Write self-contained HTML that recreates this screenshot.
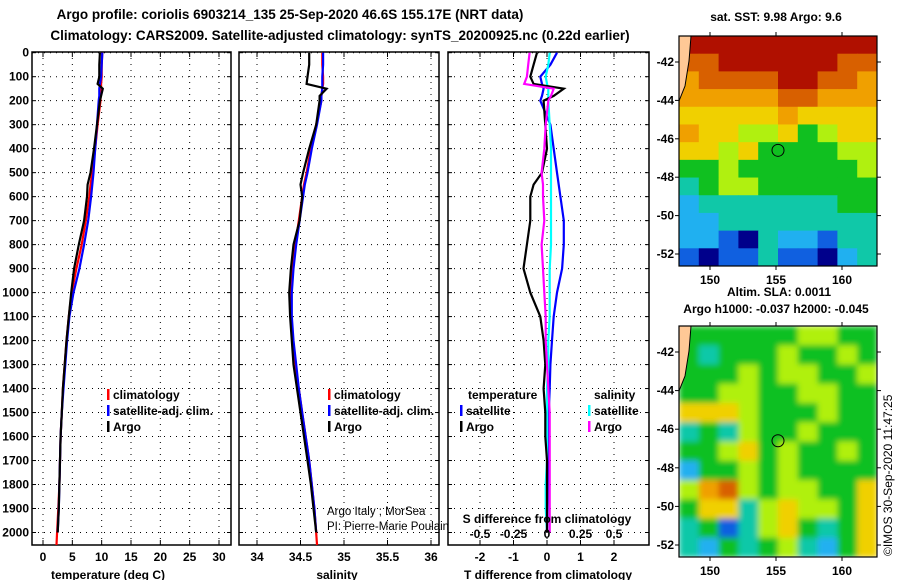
<!DOCTYPE html>
<html><head><meta charset="utf-8"><style>
body{margin:0;background:#fff;width:900px;height:580px;overflow:hidden}
svg{font-family:"Liberation Sans",sans-serif;font-weight:bold}
</style></head><body>
<svg id="s" width="900" height="580">
<defs>
<filter id="blur" x="0" y="0" width="100%" height="100%"><feGaussianBlur stdDeviation="3"/></filter>
<clipPath id="c1"><rect x="679" y="36" width="198" height="230"/></clipPath>
<clipPath id="c2"><rect x="679" y="326" width="198" height="231"/></clipPath>
</defs>
</svg>
<script>
// ---- data ----
const depths=[0,50,100,130,150,180,200,300,400,500,550,600,700,800,900,1000,1100,1200,1300,1400,1500,1600,1700,1800,1900,2000];
const tempArgo=[9.7,9.6,9.6,9.3,10.2,9.9,9.7,9.2,8.7,8.1,7.6,7.5,7.0,6.1,5.3,4.8,4.4,4.0,3.7,3.4,3.2,3.0,2.9,2.8,2.7,2.5];
const tempClim=[10.1,10.0,10.0,9.9,9.9,9.8,9.8,9.3,8.9,8.4,8.1,7.9,7.3,6.6,5.7,4.9,4.4,4.0,3.7,3.4,3.2,3.0,2.9,2.8,2.6,2.4];
const tempSat=[10.1,10.0,9.9,9.7,9.6,9.6,9.5,9.2,8.9,8.6,8.4,8.2,7.7,7.0,6.2,5.2,4.5,4.1,3.8,3.5,3.2,3.0,2.9,2.8,2.7,2.5];
const salArgo=[34.6,34.6,34.58,34.57,34.8,34.72,34.72,34.68,34.6,34.53,34.5,34.52,34.49,34.42,34.39,34.37,34.38,34.4,34.42,34.46,34.5,34.54,34.58,34.62,34.65,34.68];
const salClim=[34.75,34.75,34.76,34.76,34.75,34.74,34.74,34.68,34.62,34.57,34.54,34.52,34.48,34.44,34.41,34.39,34.39,34.41,34.44,34.48,34.52,34.56,34.6,34.63,34.66,34.68];
const salSat=[34.76,34.76,34.75,34.75,34.75,34.74,34.74,34.69,34.63,34.58,34.55,34.53,34.49,34.45,34.42,34.4,34.4,34.42,34.45,34.48,34.52,34.56,34.6,34.63,34.66,34.68];
const dTArgo=[-0.3,-0.4,-0.5,-0.4,0.5,0.2,-0.1,-0.05,0,-0.15,-0.4,-0.5,-0.5,-0.6,-0.7,-0.5,-0.2,-0.1,-0.05,-0.1,-0.05,-0.05,0,0,0,0];
const dTSat=[0.3,0.1,-0.2,-0.15,-0.1,-0.15,-0.2,0.1,0.2,0.3,0.35,0.4,0.5,0.5,0.45,0.3,0.2,0.15,0.1,0.08,0.05,0.04,0.03,0.02,0.01,0];
const dSArgo=[-0.13,-0.14,-0.15,-0.17,0.05,0.03,0.01,-0.01,-0.02,-0.04,-0.03,-0.03,-0.02,-0.04,-0.03,-0.02,-0.01,-0.01,0,0.01,0.02,0.02,0.02,0.02,0.02,0.02];
const dSSat=[0.02,0.01,-0.01,0,0.01,0.01,0.01,0.02,0.03,0.03,0.03,0.03,0.03,0.03,0.02,0.02,0.02,0.01,0.01,0.0,0.0,0.0,0.0,-0.01,-0.01,0];
const depthTicks=[0,100,200,300,400,500,600,700,800,900,1000,1100,1200,1300,1400,1500,1600,1700,1800,1900,2000];
const tempTicks=[0,5,10,15,20,25,30];
const salTicks=[34,34.5,35,35.5,36];
const tdTicks=[-2,-1,0,1,2];
const sdTicks=[-0.5,-0.25,0,0.25,0.5];
const latTicks=[-42,-44,-46,-48,-50,-52];
const lonTicks=[150,155,160];
const palette=["#00008b","#1060e0","#20b0f0","#10c8a8","#10c020","#b0f010","#f0d000","#f0a000","#d86000","#b01000"];
const sstGrid=["9999999999","8899999988","7888899887","7777788777","6666676666","7665564566","6656444455","4454444445","3455444444","2333333344","2233333333","2210322133","1011311023"];
const slaGrid=["4444445544","4344454454","4445455445","4455445544","6665444544","3435445444","4456454454","2445454444","5785455446","4663565546","3413564346","3243453246"];
// ---- helpers ----
const S=document.getElementById('s');const NS="http://www.w3.org/2000/svg";
function el(t,a,p){const e=document.createElementNS(NS,t);for(const k in a)e.setAttribute(k,a[k]);(p||S).appendChild(e);return e;}
function txt(x,y,s,o){o=o||{};const e=el('text',{x:x,y:y,'font-size':o.fs||12,'text-anchor':o.a||'middle',fill:o.c||'#000'});if(o.w)e.setAttribute('font-weight',o.w);if(o.tr)e.setAttribute('transform',o.tr);e.textContent=s;return e;}
const TOP=52,BOT=545;
const Y=d=>52.7+d*(532.5-52.7)/2000;
const X1=v=>43+v*(219-43)/30;
const X2=v=>257+(v-34)*(431-257)/2;
const X3=v=>547+v*33.5;
const X3s=v=>547+v*134;
function line(xs,ds,fx,col,name){const pts=xs.map((v,i)=>fx(v).toFixed(1)+','+Y(ds[i]).toFixed(1)).join(' ');const e=el('polyline',{points:pts,fill:'none',stroke:col,'stroke-width':2.2});

return e;}
function panel(x0,x1,xt,fx,lbls,name){const g=el('g',{});


depthTicks.forEach(d=>{el('line',{x1:x0,x2:x1,y1:Y(d),y2:Y(d),stroke:'#000','stroke-dasharray':'1,5','stroke-width':1},g);el('line',{x1:x0,x2:x0+4,y1:Y(d),y2:Y(d),stroke:'#000'},g);el('line',{x1:x1-4,x2:x1,y1:Y(d),y2:Y(d),stroke:'#000'},g);});
xt.forEach(v=>{const x=fx(v);el('line',{x1:x,x2:x,y1:TOP,y2:BOT,stroke:'#000','stroke-dasharray':'1,5'},g);el('line',{x1:x,x2:x,y1:TOP,y2:TOP+5,stroke:'#000'},g);el('line',{x1:x,x2:x,y1:BOT-5,y2:BOT,stroke:'#000'},g);if(lbls)txt(x,561,lbls(v),{fs:12});});
el('rect',{x:x0,y:TOP,width:x1-x0,height:BOT-TOP,fill:'none',stroke:'#000','stroke-width':1.5},g);return g;}
// titles
txt(290,19,"Argo profile: coriolis 6903214_135 25-Sep-2020 46.6S 155.17E (NRT data)",{fs:13.5});
txt(340,40,"Climatology: CARS2009. Satellite-adjusted climatology: synTS_20200925.nc (0.22d earlier)",{fs:13.5});
// panel 1
panel(32,231,tempTicks,X1,v=>String(v),'temperature-panel');
depthTicks.forEach(d=>txt(29,Y(d)+4,String(d),{a:'end',fs:12}));
line(tempClim,depths,X1,'#f00','temp-climatology-line');
line(tempSat,depths,X1,'#00f','temp-satellite-line');
line(tempArgo,depths,X1,'#000','temp-argo-line');
el('line',{x1:X1(2.4),x2:X1(2.3),y1:Y(2000),y2:BOT,stroke:'#f00','stroke-width':2.2});
txt(108,579,"temperature (deg C)",{fs:12});
function legend(x,y,items){items.forEach((it,i)=>{el('rect',{x:x,y:y+i*16-10,width:2.5,height:11,fill:it[1]});txt(x+6,y+i*16,it[0],{a:'start',fs:12});});}
legend(107,399,[["climatology","#f00"],["satellite-adj. clim.","#00f"],["Argo","#000"]]);
// panel 2
panel(239,439,salTicks,X2,v=>String(v),'salinity-panel');
line(salClim,depths,X2,'#f00','sal-climatology-line');
line(salSat,depths,X2,'#00f','sal-satellite-line');
line(salArgo,depths,X2,'#000','sal-argo-line');
el('line',{x1:X2(34.68),x2:X2(34.69),y1:Y(2000),y2:BOT,stroke:'#f00','stroke-width':2.2});
txt(337,579,"salinity",{fs:12});
legend(328,399,[["climatology","#f00"],["satellite-adj. clim.","#00f"],["Argo","#000"]]);
txt(327,515,"Argo Italy ; MorSea",{a:'start',fs:11.5,w:'normal'});
txt(327,530,"PI: Pierre-Marie Poulain",{a:'start',fs:11.5,w:'normal'});
// panel 3
panel(448,649,tdTicks,X3,v=>String(v),'difference-panel');
line(dTSat,depths,X3,'#00f','dT-satellite-line');
line(dSSat,depths,X3s,'#00ffff','dS-satellite-line');
line(dTArgo,depths,X3,'#000','dT-argo-line');
line(dSArgo,depths,X3s,'#ff00ff','dS-argo-line');
txt(548,579,"T difference from climatology",{fs:12});
txt(547,523,"S difference from climatology",{fs:12});
sdTicks.forEach(v=>txt(X3s(v),538,String(v),{fs:12}));
txt(468,399,"temperature",{a:'start',fs:12});txt(594,399,"salinity",{a:'start',fs:12});
legend(460,415,[["satellite","#00f"],["Argo","#000"]]);
legend(588,415,[["satellite","#00ffff"],["Argo","#ff00ff"]]);
// maps
function map(y0,y1,lat42,lat52,grid,clip,blur,name){const x0=679,x1=877;const g=el('g',{});


const cg=el('g',{'clip-path':'url(#'+clip+')'},g);
const hg=el('g',blur?{filter:'url(#blur)'}:{},cg);
const rows=grid.length,cols=grid[0].length,cw=(x1-x0)/cols,ch=(y1-y0)/rows;
grid.forEach((r,i)=>{for(let j=0;j<cols;j++){const c=el('rect',{x:x0+j*cw,y:y0+i*ch,width:cw+0.5,height:ch+0.5,fill:palette[+r[j]]},hg);

}});
el('path',{d:`M${x0},${y0} L${x0+12},${y0} L${x0+10},${y0+25} L${x0+6},${y0+50} L${x0},${y0+65} Z`,fill:'#ffc896',stroke:'#000','stroke-width':1},g);
const ly=v=>lat42+(-42-v)*(lat52-lat42)/10;
latTicks.forEach(v=>{el('line',{x1:x0-4,x2:x0,y1:ly(v),y2:ly(v),stroke:'#000'},g);el('line',{x1:x1,x2:x1+4,y1:ly(v),y2:ly(v),stroke:'#000'},g);txt(x0-5,ly(v)+4,String(v),{a:'end',fs:12});});
const lx=v=>710+(v-150)*13.2;
lonTicks.forEach(v=>{el('line',{x1:lx(v),x2:lx(v),y1:y0-4,y2:y0,stroke:'#000'},g);el('line',{x1:lx(v),x2:lx(v),y1:y1,y2:y1+4,stroke:'#000'},g);txt(lx(v),y1+18,String(v),{fs:12});});
el('circle',{cx:778,cy:ly(-46.6),r:6,fill:'none',stroke:'#000','stroke-width':1},g);
el('rect',{x:x0,y:y0,width:x1-x0,height:y1-y0,fill:'none',stroke:'#000','stroke-width':1.2},g);}
txt(776,21,"sat. SST: 9.98 Argo: 9.6",{fs:12});
map(36,266,62,254,sstGrid,'c1',false,"sst-map");
txt(779,296,"Altim. SLA: 0.0011",{fs:12});
txt(776,313,"Argo h1000: -0.037 h2000: -0.045",{fs:12});
map(326,557,352,545,slaGrid,'c2',true,"sla-map");
txt(0,0,"©IMOS 30-Sep-2020 11:47:25",{fs:12,w:'normal',a:'start',tr:'translate(892,556) rotate(-90)'});
</script>
</body></html>
